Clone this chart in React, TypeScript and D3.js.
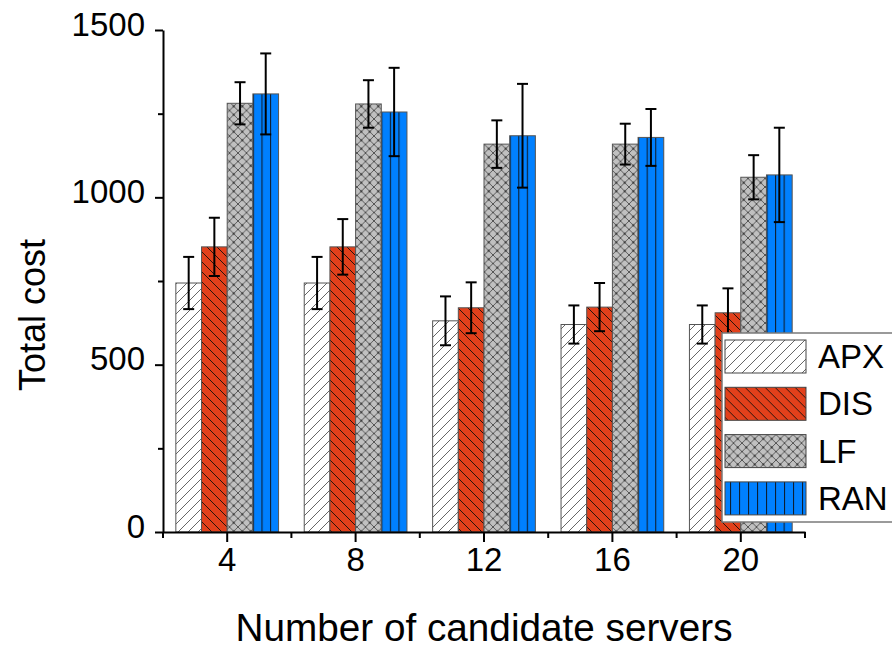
import React, { useEffect, useRef } from "react";
import { select, scaleBand, scaleLinear, axisLeft, axisBottom } from "d3";

const categories = ["4", "8", "12", "16", "20"];
const seriesNames = ["APX", "DIS", "LF", "RAN"];

const apx = [744, 744, 631, 620, 620];
const apxErr = [78, 78, 73, 57, 57];
const dis = [852, 852, 670, 672, 655];
const disErr = [87, 83, 76, 72, 73];
const lf = [1281, 1279, 1159, 1159, 1060];
const lfErr = [63, 71, 71, 61, 66];
const ran = [1309, 1255, 1184, 1179, 1067];
const ranErr = [121, 132, 155, 85, 141];

const yMajor = [0, 500, 1000, 1500];
const yMinor = [250, 750, 1250];

const values = [apx, dis, lf, ran];
const errors = [apxErr, disErr, lfErr, ranErr];

const fills = ["#ffffff", "#e2401b", "#c0c0c0", "#0080ff"];
const font = "'Liberation Sans', Arial, sans-serif";

function chart(node: SVGSVGElement) {
  const width = 892;
  const height = 649;
  const left = 163;
  const right = 805;
  const top = 30;
  const bottom = 532;

  const svg = select(node);
  svg.selectAll("*").remove();

  const x = scaleBand().domain(categories).range([left, right]).padding(0);
  const xs = scaleBand()
    .domain(seriesNames)
    .range([0, x.bandwidth()])
    .paddingInner(0)
    .paddingOuter(0.5);
  const y = scaleLinear().domain([0, 1500]).range([bottom, top]);

  const defs = svg.append("defs");

  // hatch patterns
  const h = 10;
  const p0 = defs
    .append("pattern")
    .attr("id", "pat-APX")
    .attr("patternUnits", "userSpaceOnUse")
    .attr("width", h)
    .attr("height", h);
  p0.append("rect").attr("width", h).attr("height", h).attr("fill", fills[0]);
  p0.append("path")
    .attr("d", `M-1,${h + 1} L${h + 1},-1 M-1,1 L1,-1 M${h - 1},${h + 1} L${h + 1},${h - 1}`)
    .attr("stroke", "#555")
    .attr("stroke-width", 0.9);

  const p1 = defs
    .append("pattern")
    .attr("id", "pat-DIS")
    .attr("patternUnits", "userSpaceOnUse")
    .attr("width", h)
    .attr("height", h);
  p1.append("rect").attr("width", h).attr("height", h).attr("fill", fills[1]);
  p1.append("path")
    .attr("d", `M-1,-1 L${h + 1},${h + 1} M${h - 1},-1 L${h + 1},1 M-1,${h - 1} L1,${h + 1}`)
    .attr("stroke", "#2a140c")
    .attr("stroke-width", 1);

  const c = 8.5;
  const p2 = defs
    .append("pattern")
    .attr("id", "pat-LF")
    .attr("patternUnits", "userSpaceOnUse")
    .attr("width", c)
    .attr("height", c);
  p2.append("rect").attr("width", c).attr("height", c).attr("fill", fills[2]);
  p2.append("path")
    .attr("d", `M0,0 L${c},${c} M${c},0 L0,${c}`)
    .attr("stroke", "#4a4a4a")
    .attr("stroke-width", 0.9);
  p2.append("circle").attr("cx", c / 2).attr("cy", c / 2).attr("r", 0.9).attr("fill", "#111");

  const ranPattern = (id: string, px: number, step: number) => {
    const p = defs
      .append("pattern")
      .attr("id", id)
      .attr("patternUnits", "userSpaceOnUse")
      .attr("x", px)
      .attr("y", 0)
      .attr("width", step)
      .attr("height", 20);
    p.append("rect").attr("width", step).attr("height", 20).attr("fill", fills[3]);
    p.append("line")
      .attr("x1", 0.5)
      .attr("x2", 0.5)
      .attr("y1", 0)
      .attr("y2", 20)
      .attr("stroke", "#0d1f33")
      .attr("stroke-width", 1.2);
  };

  const bw = xs.bandwidth();
  categories.forEach((c, i) => {
    ranPattern(`pat-RAN-${i}`, (x(c) as number) + (xs("RAN") as number), bw / 3);
  });

  const fillFor = (s: string, i: number) =>
    s === "RAN" ? `url(#pat-RAN-${i})` : `url(#pat-${s})`;

  // bars
  const rows = categories.flatMap((c, i) =>
    seriesNames.map((s, k) => ({
      c,
      i,
      s,
      v: values[k][i],
      e: errors[k][i],
    }))
  );

  const g = svg.append("g");
  g.selectAll("rect")
    .data(rows)
    .join("rect")
    .attr("x", (d) => (x(d.c) as number) + (xs(d.s) as number))
    .attr("y", (d) => y(d.v))
    .attr("width", bw)
    .attr("height", (d) => y(0) - y(d.v))
    .attr("fill", (d) => fillFor(d.s, d.i))
    .attr("stroke", "#555")
    .attr("stroke-width", 1);

  // error bars
  const eb = svg
    .append("g")
    .attr("stroke", "#000")
    .attr("stroke-width", 2)
    .selectAll("g")
    .data(rows)
    .join("g")
    .attr(
      "transform",
      (d) => `translate(${(x(d.c) as number) + (xs(d.s) as number) + bw / 2},0)`
    );
  eb.append("line")
    .attr("y1", (d) => y(d.v + d.e))
    .attr("y2", (d) => y(d.v - d.e));
  eb.append("line")
    .attr("x1", -5.5)
    .attr("x2", 5.5)
    .attr("y1", (d) => y(d.v + d.e))
    .attr("y2", (d) => y(d.v + d.e));
  eb.append("line")
    .attr("x1", -5.5)
    .attr("x2", 5.5)
    .attr("y1", (d) => y(d.v - d.e))
    .attr("y2", (d) => y(d.v - d.e));

  // y axis
  const ya = svg
    .append("g")
    .attr("transform", `translate(${left},0)`)
    .call(
      axisLeft(y)
        .tickValues(yMajor)
        .tickSize(8)
        .tickSizeOuter(0)
        .tickPadding(10)
        .tickFormat((d: any) => String(d))
    );
  ya.select(".domain").attr("stroke-width", 2);
  ya.selectAll(".tick line").attr("stroke-width", 2);
  ya.selectAll("text")
    .attr("font-family", font)
    .attr("font-size", 33)
    .attr("dy", "0.16em")
    .attr("fill", "#000");

  svg
    .append("g")
    .attr("transform", `translate(${left},0)`)
    .call(axisLeft(y).tickValues(yMinor).tickSize(5).tickSizeOuter(0).tickFormat(() => ""))
    .call((a) => a.select(".domain").remove())
    .selectAll(".tick line")
    .attr("stroke-width", 2);

  // x axis
  const xa = svg
    .append("g")
    .attr("transform", `translate(0,${bottom})`)
    .call(axisBottom(x).tickSize(10).tickSizeOuter(0).tickPadding(6));
  xa.select(".domain").attr("stroke-width", 2);
  xa.selectAll(".tick line").attr("stroke-width", 2);
  xa.selectAll("text")
    .attr("font-family", font)
    .attr("font-size", 33)
    .attr("fill", "#000");

  const bounds = [...categories.map((c) => x(c) as number), right];
  svg
    .append("g")
    .selectAll("line")
    .data(bounds)
    .join("line")
    .attr("x1", (d) => d)
    .attr("x2", (d) => d)
    .attr("y1", bottom)
    .attr("y2", bottom + 6)
    .attr("stroke", "#000")
    .attr("stroke-width", 2);

  // axis titles
  svg
    .append("text")
    .attr("x", 484)
    .attr("y", 641)
    .attr("text-anchor", "middle")
    .attr("font-family", font)
    .attr("font-size", 38)
    .attr("textLength", 497)
    .attr("lengthAdjust", "spacingAndGlyphs")
    .text("Number of candidate servers");

  svg
    .append("text")
    .attr("transform", `translate(45,${(top + bottom) / 2 + 34}) rotate(-90)`)
    .attr("text-anchor", "middle")
    .attr("font-family", font)
    .attr("font-size", 36)
    .text("Total cost");

  // legend
  const lg = svg.append("g");
  lg.append("rect")
    .attr("x", 722)
    .attr("y", 333)
    .attr("width", 200)
    .attr("height", 189)
    .attr("fill", "#fff")
    .attr("stroke", "#7a7a7a")
    .attr("stroke-width", 1.5);

  ranPattern("pat-RAN-legend", 725, 9);
  const item = lg
    .selectAll("g")
    .data(seriesNames)
    .join("g")
    .attr("transform", (d, i) => `translate(725,${340 + i * 47.3})`);
  item
    .append("rect")
    .attr("width", 81)
    .attr("height", 33)
    .attr("fill", (d) => (d === "RAN" ? "url(#pat-RAN-legend)" : `url(#pat-${d})`))
    .attr("stroke", "#444")
    .attr("stroke-width", 1);
  item
    .append("text")
    .attr("x", 93)
    .attr("y", 28)
    .attr("font-family", font)
    .attr("font-size", 33)
    .text((d) => d);

  svg.attr("width", width).attr("height", height);
}

export default function App() {
  const ref = useRef<SVGSVGElement>(null);
  useEffect(() => {
    if (ref.current) chart(ref.current);
  }, []);
  return (
    <svg
      ref={ref}
      width={892}
      height={649}
      style={{ position: "absolute", left: 0, top: 0, background: "#fff" }}
    />
  );
}
